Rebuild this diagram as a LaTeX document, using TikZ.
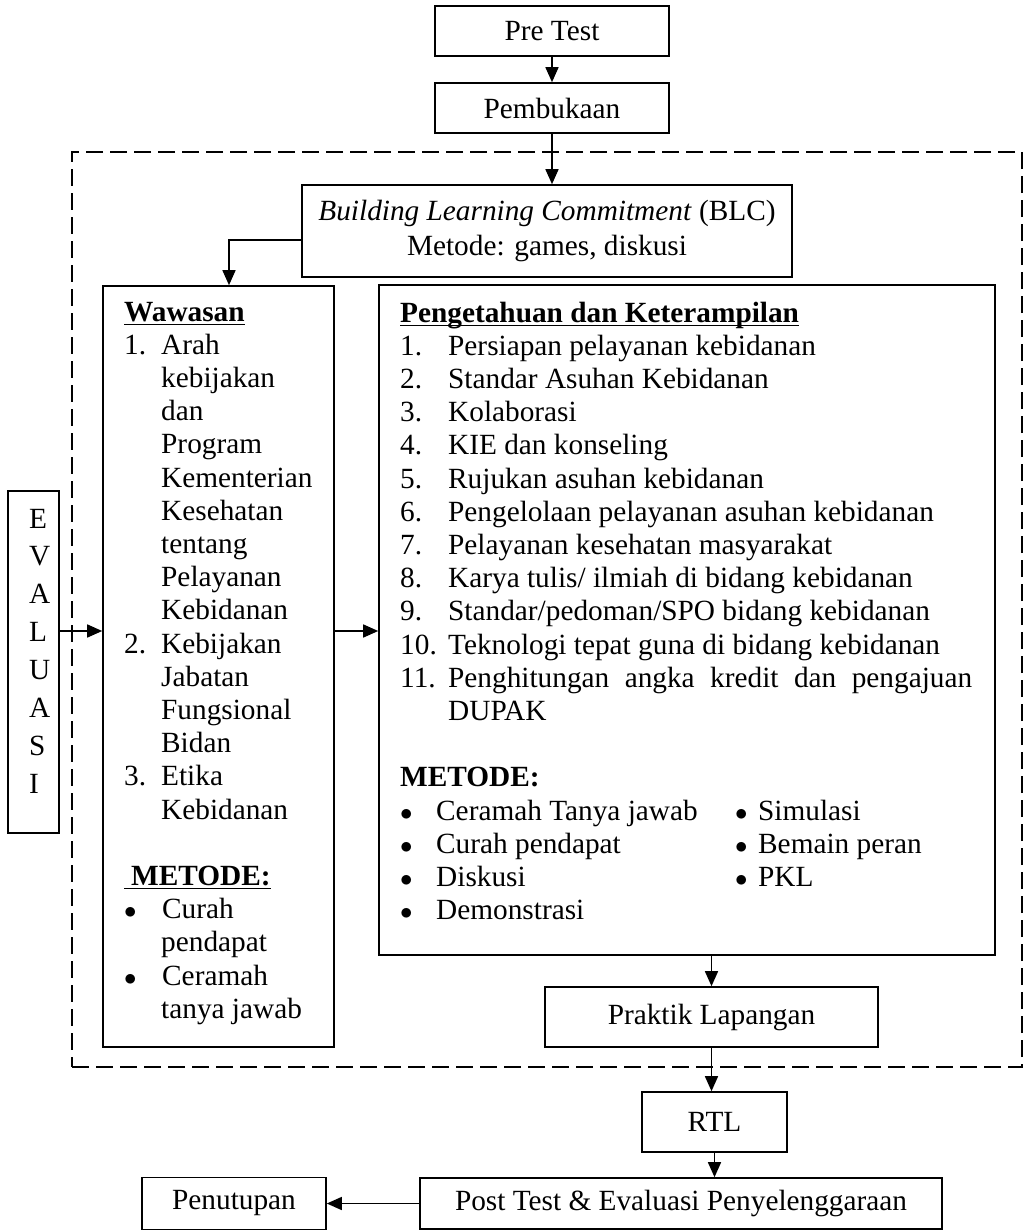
\documentclass[tikz,border=0pt]{standalone}
\usepackage{fontspec}
\setmainfont{Liberation Serif}
\usetikzlibrary{arrows.meta}
\newcommand\fs{\fontsize{29.3}{33.2}\selectfont}
\newcommand\myul[1]{\leavevmode\setbox0\hbox{#1}\rlap{\rule[-4pt]{\wd0}{1.4pt}}\box0}
\newcommand\bul{$\bullet$}
\newcommand\wn[1]{\makebox[37pt][l]{#1}}
\newcommand\wb{\makebox[38pt][l]{\bul}}
\newcommand\pn[1]{\makebox[48pt][l]{#1}}
\tikzset{
  every node/.style={font=\fs},
  box/.style={draw, line width=1.6pt, inner sep=0pt, align=center},
  arr/.style={line width=1.5pt, -{Triangle[length=15pt,width=13pt]}},
  txt/.style={inner sep=0pt, anchor=base west},
  grp/.style={draw, line width=2.8pt, dash pattern=on 17pt off 7pt, inner sep=0pt}
}
\begin{document}
\begin{tikzpicture}[x=1pt,y=-1pt]
\useasboundingbox (0,0) rectangle (1025,1231);
% group
\node[grp, minimum width=950pt, minimum height=915pt] (group) at (547,609.5) {};
% boxes
\node[box, minimum width=234pt, minimum height=50pt] (pre) at (552,31) {Pre Test};
\node[box, minimum width=234pt, minimum height=50pt] (pemb) at (552,108) {Pembukaan};
\node[box, minimum width=490pt, minimum height=92pt] (blc) at (547,231)
  {\textit{Building Learning Commitment} (BLC)\\[1.2pt] Metode: games, diskusi};
\node[box, minimum width=231pt, minimum height=761pt] (waw) at (218.5,666.5) {};
\node[box, minimum width=616pt, minimum height=670pt] (pk) at (687,620) {};
\node[box, minimum width=51pt, minimum height=342pt] (eval) at (33.5,662) {};
\node[box, minimum width=333pt, minimum height=60pt] (prak) at (711.5,1017) {Praktik Lapangan};
\node[box, minimum width=145pt, minimum height=60pt] (rtl) at (714.5,1122) {RTL};
\node[box, minimum width=522pt, minimum height=51pt] (post) at (681,1203.5) {Post Test \& Evaluasi Penyelenggaraan};
\node[box, minimum width=184pt, minimum height=52pt] (pen) at (234,1203.5) {Penutupan};
% texts
\node[txt] (evtxt) at (29,528) {\parbox[t]{25pt}{\fontsize{29.3}{37.9}\selectfont\raggedright
E\\V\\A\\L\\U\\A\\S\\I}};
\node[txt] (wtxt) at (124,321) {\parbox[t]{205pt}{\fs\raggedright
\myul{\textbf{Wawasan}}\\
\wn{1.}Arah\\
\wn{}kebijakan\\
\wn{}dan\\
\wn{}Program\\
\wn{}Kementerian\\
\wn{}Kesehatan\\
\wn{}tentang\\
\wn{}Pelayanan\\
\wn{}Kebidanan\\
\wn{2.}Kebijakan\\
\wn{}Jabatan\\
\wn{}Fungsional\\
\wn{}Bidan\\
\wn{3.}Etika\\
\wn{}Kebidanan\\
\mbox{}\\
\myul{\hspace*{7pt}\textbf{METODE:}}\\
\wb Curah\\
\wn{}pendapat\\
\wb Ceramah\\
\wn{}tanya jawab}};
\node[txt] (ptxt) at (400,322) {\parbox[t]{590pt}{\fs\raggedright
\myul{\textbf{Pengetahuan dan Keterampilan}}\\
\pn{1.}Persiapan pelayanan kebidanan\\
\pn{2.}Standar Asuhan Kebidanan\\
\pn{3.}Kolaborasi\\
\pn{4.}KIE dan konseling\\
\pn{5.}Rujukan asuhan kebidanan\\
\pn{6.}Pengelolaan pelayanan asuhan kebidanan\\
\pn{7.}Pelayanan kesehatan masyarakat\\
\pn{8.}Karya tulis/ ilmiah di bidang kebidanan\\
\pn{9.}Standar/pedoman/SPO bidang kebidanan\\
\pn{10.}Teknologi tepat guna di bidang kebidanan\\
\pn{11.}\makebox[524pt][s]{Penghitungan angka kredit dan pengajuan}\\
\pn{}DUPAK\\
\mbox{}\\
\textbf{METODE:}\\
\makebox[36pt][l]{\bul}\makebox[299pt][l]{Ceramah Tanya jawab}\makebox[23pt][l]{\bul}Simulasi\\
\makebox[36pt][l]{\bul}\makebox[299pt][l]{Curah pendapat}\makebox[23pt][l]{\bul}Bemain peran\\
\makebox[36pt][l]{\bul}\makebox[299pt][l]{Diskusi}\makebox[23pt][l]{\bul}PKL\\
\makebox[36pt][l]{\bul}Demonstrasi}};
% connectors
\coordinate (ya) at (0,631);
\draw[arr] (pre) -- (pemb);
\draw[arr] (pemb.south) -- (pemb.south |- blc.north);
\draw[arr] ([yshift=-9pt]blc.west) -| ([xshift=10.5pt]waw.north);
\draw[arr] (eval.east |- ya) -- (waw.west |- ya);
\draw[arr] (waw.east |- ya) -- (pk.west |- ya);
\draw[arr] (pk.south -| prak.north) -- (prak.north);
\draw[arr] (prak.south) -- (prak.south |- rtl.north);
\draw[arr] (rtl.south) -- (rtl.south |- post.north);
\draw[arr] (post.west) -- (pen.east);
\end{tikzpicture}
\end{document}
